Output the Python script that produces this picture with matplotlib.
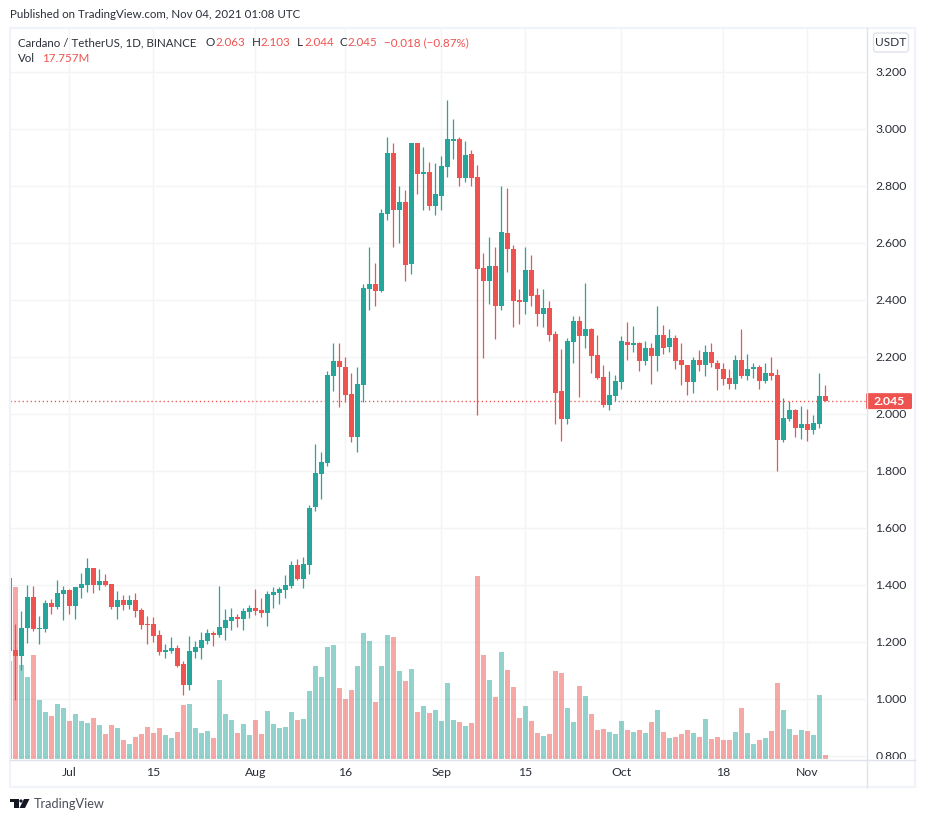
import matplotlib
matplotlib.use("Agg")
import matplotlib.pyplot as plt
import matplotlib.dates as mdates
from matplotlib.patches import Rectangle, FancyBboxPatch, Polygon, Circle
import numpy as np
import pandas as pd

W, H = 926, 822
plt.rcParams["font.family"] = ["Lato", "DejaVu Sans"]

# daily candles, starts Jun 21 2021
start_day = "2021-06-21"

opens = [1.426,1.172,1.152,1.249,1.358,1.246,1.246,1.337,1.323,1.368,
         1.382,1.326,1.389,1.400,1.460,1.400,1.414,1.404,1.323,1.347,
         1.330,1.347,1.312,1.263,1.263,1.225,1.165,1.168,1.179,1.123,
         1.049,1.165,1.179,1.204,1.232,1.225,1.249,1.274,1.288,1.281,
         1.305,1.319,1.312,1.302,1.365,1.372,1.382,1.396,1.470,1.421,
         1.470,1.675,1.790,1.829,2.134,2.187,2.166,2.071,1.920,2.103,
         2.440,2.457,2.433,2.703,2.917,2.717,2.742,2.527,2.949,2.843,
         2.850,2.731,2.766,2.868,2.959,2.966,2.829,2.913,2.833,2.513,
         2.468,2.520,2.380,2.636,2.580,2.401,2.394,2.506,2.419,2.349,
         2.373,2.282,2.082,1.984,2.254,2.327,2.275,2.299,2.208,2.131,
         2.033,2.064,2.113,2.254,2.243,2.250,2.187,2.233,2.205,2.278,
         2.236,2.268,2.191,2.173,2.113,2.191,2.170,2.219,2.180,2.159,
         2.127,2.106,2.191,2.134,2.156,2.166,2.117,2.145,2.138,1.910,
         1.984,2.015,1.952,1.966,1.945,1.966,2.063]

closes = [1.170,1.152,1.249,1.358,1.246,1.249,1.337,1.323,1.372,1.382,
          1.326,1.393,1.404,1.460,1.400,1.414,1.400,1.323,1.347,1.330,
          1.347,1.309,1.260,1.260,1.221,1.165,1.172,1.179,1.116,1.049,
          1.168,1.182,1.207,1.232,1.225,1.253,1.277,1.288,1.281,1.309,
          1.319,1.309,1.302,1.368,1.375,1.386,1.400,1.470,1.421,1.474,
          1.670,1.794,1.833,2.138,2.187,2.163,2.068,1.920,2.106,2.443,
          2.457,2.433,2.706,2.917,2.717,2.742,2.524,2.949,2.843,2.850,
          2.731,2.770,2.871,2.963,2.966,2.829,2.910,2.829,2.510,2.468,
          2.520,2.380,2.640,2.577,2.398,2.394,2.506,2.415,2.349,2.373,
          2.278,2.075,1.984,2.257,2.327,2.275,2.299,2.205,2.127,2.033,
          2.068,2.117,2.257,2.243,2.250,2.187,2.233,2.205,2.278,2.233,
          2.268,2.187,2.170,2.113,2.191,2.170,2.219,2.177,2.156,2.124,
          2.106,2.191,2.134,2.156,2.166,2.117,2.145,2.134,1.910,1.987,
          2.015,1.952,1.963,1.945,1.970,2.064,2.045]

highs = [1.426,1.263,1.309,1.400,1.396,1.291,1.347,1.351,1.418,1.396,
         1.386,1.393,1.442,1.495,1.460,1.456,1.439,1.404,1.379,1.365,
         1.365,1.372,1.319,1.291,1.288,1.242,1.193,1.218,1.189,1.133,
         1.221,1.204,1.235,1.246,1.239,1.396,1.316,1.319,1.298,1.319,
         1.330,1.386,1.354,1.379,1.393,1.393,1.435,1.484,1.491,1.498,
         1.680,1.896,1.868,2.149,2.250,2.250,2.201,2.142,2.166,2.457,
         2.584,2.531,2.720,2.973,2.949,2.798,2.787,2.949,2.952,2.935,
         2.885,2.882,2.906,3.103,3.033,2.970,2.956,2.927,2.875,2.566,
         2.622,2.587,2.801,2.791,2.594,2.440,2.584,2.559,2.443,2.440,
         2.398,2.292,2.229,2.268,2.345,2.345,2.461,2.303,2.278,2.173,
         2.152,2.138,2.275,2.324,2.310,2.254,2.257,2.250,2.377,2.313,
         2.299,2.278,2.250,2.173,2.201,2.226,2.243,2.250,2.191,2.177,
         2.159,2.208,2.299,2.212,2.177,2.170,2.180,2.201,2.156,2.057,
         2.047,2.019,2.029,2.019,1.998,2.145,2.103]

lows = [1.170,0.996,1.102,1.196,1.240,1.193,1.235,1.298,1.316,1.277,
        1.298,1.281,1.354,1.375,1.372,1.382,1.396,1.316,1.281,1.312,
        1.316,1.288,1.246,1.193,1.200,1.154,1.144,1.161,1.112,1.014,
        1.032,1.144,1.140,1.193,1.186,1.218,1.207,1.242,1.253,1.242,
        1.284,1.295,1.288,1.256,1.319,1.333,1.354,1.389,1.418,1.389,
        1.440,1.660,1.700,1.819,2.082,2.026,2.043,1.903,1.868,2.043,
        2.363,2.377,2.429,2.682,2.584,2.598,2.468,2.492,2.770,2.717,
        2.717,2.699,2.717,2.833,2.896,2.798,2.812,2.798,1.998,2.198,
        2.387,2.264,2.363,2.499,2.306,2.317,2.352,2.377,2.310,2.306,
        2.257,1.966,1.906,1.963,2.177,2.061,2.233,2.145,2.124,2.026,
        2.015,2.047,2.089,2.191,2.219,2.149,2.173,2.106,2.149,2.212,
        2.219,2.156,2.103,2.068,2.075,2.152,2.134,2.166,2.085,2.103,
        2.089,2.089,2.127,2.120,2.127,2.089,2.110,2.120,1.801,1.903,
        1.977,1.920,1.913,1.906,1.931,1.949,2.044]

# volume in millions
volumes = [437,764,417,364,462,262,209,191,244,226,
           169,200,169,160,182,151,111,151,138,84,
           67,98,111,142,115,138,107,93,120,240,
           244,138,115,124,93,351,200,173,115,155,
           107,173,111,213,155,138,142,209,173,178,
           302,413,364,497,506,315,266,306,413,559,
           524,253,413,551,542,391,346,400,209,235,
           204,218,169,337,173,164,147,160,813,462,
           351,275,475,395,320,182,235,169,115,102,
           111,391,382,226,164,324,280,200,129,133,
           120,111,169,129,120,129,115,164,218,120,
           93,98,111,129,115,98,178,89,98,84,
           84,120,226,115,67,84,93,124,337,218,
           133,107,129,124,107,284,17.757]

price_ticks = [0.8, 1.0, 1.2, 1.4, 1.6, 1.8, 2.0, 2.2, 2.4, 2.6, 2.8, 3.0, 3.2]
time_ticks = ["2021-07-01", "2021-07-15", "2021-08-01", "2021-08-16", "2021-09-01",
              "2021-09-15", "2021-10-01", "2021-10-18", "2021-11-01"]
time_labels = ["Jul", "15", "Aug", "16", "Sep", "15", "Oct", "18", "Nov"]
last_price = 2.045

RED = "#ef5350"
GREEN = "#26a69a"
GRID = "#f3f4f6"
FRAME = "#f0f3fa"
AXIS = "#e0e3eb"
INK = "#2a2e39"


def fx(x):
    return x / W


def fy(y):
    return 1 - y / H


def rect_px(x0, y0, x1, y1):
    return [fx(x0), fy(y1), (x1 - x0) / W, (y1 - y0) / H]


def label(x, y, s, color=INK, size=8.3, **kw):
    fig.text(fx(x), fy(y), s, color=color, fontsize=size, va="center", zorder=20, **kw)


fig = plt.figure(figsize=(W / 100, H / 100), dpi=100, facecolor="white")

dates = pd.date_range(start_day, periods=len(opens))
x = mdates.date2num(dates)
o, h, l, c = map(np.array, (opens, highs, lows, closes))
up = c >= o
colors = np.where(up, GREEN, RED)

# chart pane runs from x=10 to 866 and y=28 to 759
pane = rect_px(10, 28, 866, 759)
xlim = (x[0] + 0.117, x[0] + 142.78)
ylim = (0.7895, 3.354)

ax = fig.add_axes(pane, zorder=1)
ax.set_xlim(xlim)
ax.set_ylim(ylim)
ax.set_xticks(mdates.date2num(pd.to_datetime(time_ticks)))
ax.set_yticks(price_ticks)
ax.grid(True, color=GRID, lw=1.0)
ax.tick_params(length=0, labelbottom=False, labelleft=False)
for s in ax.spines.values():
    s.set_visible(False)
ax.set_axisbelow(True)

# volume sits at the bottom of the pane, about 4.44M per pixel
ax_vol = fig.add_axes(pane, zorder=2)
ax_vol.patch.set_visible(False)
ax_vol.set_xlim(xlim)
ax_vol.set_ylim(0, 3246)
ax_vol.axis("off")
ax_vol.bar(x, volumes, width=0.83, color=colors, alpha=0.5, lw=0)

ax_c = fig.add_axes(pane, zorder=3)
ax_c.patch.set_visible(False)
ax_c.set_xlim(xlim)
ax_c.set_ylim(ylim)
ax_c.axis("off")
ax_c.axhline(last_price, color=RED, lw=1.0, ls=(0, (0.9, 2.0)), zorder=1)
ax_c.vlines(x, l, h, colors=colors, lw=0.9, zorder=2)
ax_c.bar(x, np.abs(c - o), bottom=np.minimum(o, c), width=0.83, color=colors, lw=0, zorder=3)

# price scale on the right
ax_r = fig.add_axes(rect_px(866, 28, 916, 759), zorder=4)
ax_r.set_xlim(866, 916)
ax_r.set_ylim(ylim)
ax_r.axis("off")
for p in price_ticks:
    ax_r.text(891, p - 0.003, f"{p:.3f}", ha="center", va="center", fontsize=8.8, color=INK, clip_on=True)
ax_r.add_patch(FancyBboxPatch((866, last_price - 0.028), 46, 0.056,
                              boxstyle="round,pad=0,rounding_size=1.5",
                              mutation_aspect=0.0035, fc=RED, ec="none", zorder=5))
ax_r.text(889, last_price - 0.003, f"{last_price:.3f}", ha="center", va="center",
          fontsize=8.8, color="white", fontweight="bold", zorder=6)

# outer frame and axis lines
fig.add_artist(Rectangle((fx(10), fy(787)), 905 / W, 759 / H, transform=fig.transFigure,
                         fc="none", ec=FRAME, lw=1.5, zorder=10))
fig.add_artist(plt.Line2D([fx(10), fx(915)], [fy(759.5)] * 2, color=AXIS, lw=1, zorder=11))
fig.add_artist(plt.Line2D([fx(866.5)] * 2, [fy(28), fy(787)], color=AXIS, lw=1, zorder=11))

# time labels
px_per_day = (866 - 10) / (xlim[1] - xlim[0])
for d, s in zip(time_ticks, time_labels):
    tx = 10 + (mdates.date2num(pd.Timestamp(d)) - xlim[0]) * px_per_day
    label(tx, 772.5, s, ha="center", size=8.8)

# header text
label(10, 15, "Published on TradingView.com, Nov 04, 2021 01:08 UTC")
label(18, 42.5, "Cardano / TetherUS, 1D, BINANCE")
for px, s, col in [(206, "O", INK), (215, "2.063", RED), (252, "H", INK), (260, "2.103", RED),
                   (297, "L", INK), (304, "2.044", RED), (340, "C", INK), (347, "2.045", RED),
                   (384, "\u22120.018 (\u22120.87%)", RED)]:
    label(px, 42.5, s, color=col, size=8.4)
label(18, 59, "Vol")
label(42, 59, "17.757M", color=RED, size=8.4)

# USDT button
fig.add_artist(FancyBboxPatch((873.5, H - 52), 35, 19, boxstyle="round,pad=0,rounding_size=3",
                              transform=None, fc="white", ec=AXIS, lw=1, zorder=12))
label(891, 43, "USDT", ha="center", size=8.6)

# logo and footer
logo = "#131722"
fig.add_artist(Polygon([(10, H - 799), (19, H - 799), (19, H - 808), (14, H - 808), (14, H - 802), (10, H - 802)],
                       transform=None, fc=logo, ec="none", zorder=12))
fig.add_artist(Circle((21, H - 801), 1.6, transform=None, fc=logo, ec="none", zorder=12))
fig.add_artist(Polygon([(24, H - 799), (29.5, H - 799), (25, H - 808), (19.5, H - 808)],
                       transform=None, fc=logo, ec="none", zorder=12))
label(34, 804, "TradingView", color="#4a4e5a", size=9.2)

fig.savefig("out.png", dpi=100)
